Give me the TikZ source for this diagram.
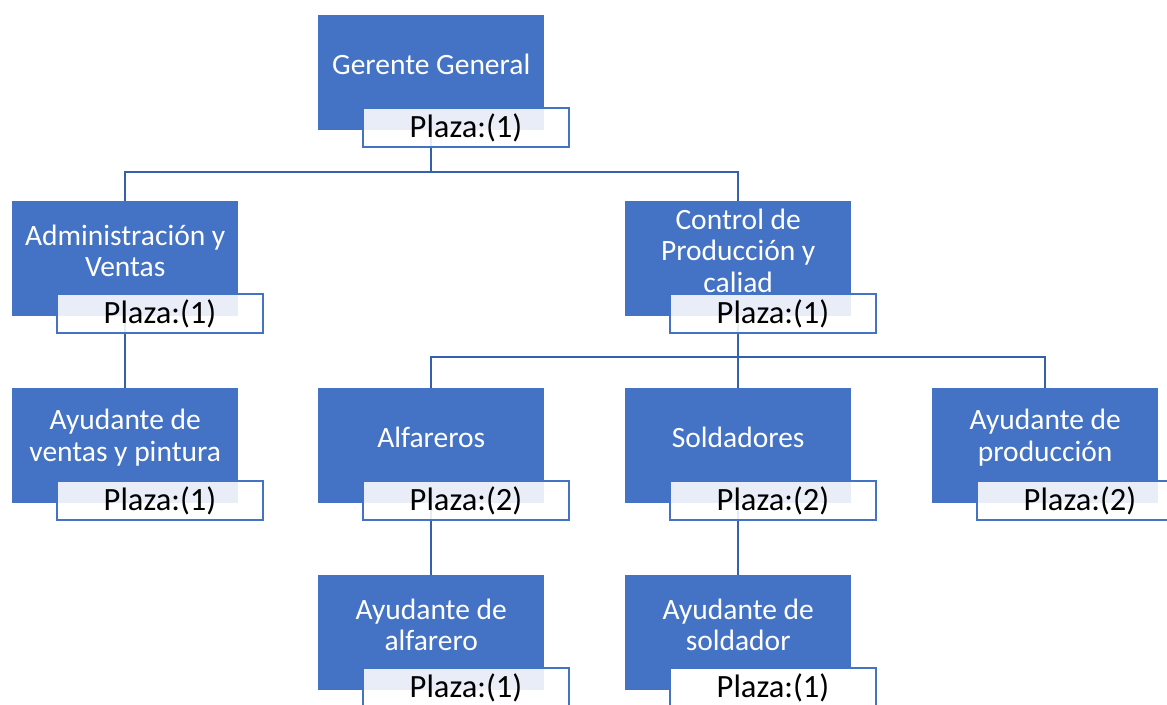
\documentclass[tikz,border=0pt]{standalone}
\usepackage{fontspec}
\setmainfont{Carlito}
\usetikzlibrary{backgrounds,positioning}
\definecolor{unitblue}{HTML}{4472C4}
\definecolor{linkblue}{HTML}{3560AC}
\tikzset{
  unitbox/.style={fill=unitblue, draw=none, minimum width=226pt, minimum height=115pt,
    inner sep=0pt, anchor=north west},
  unittext/.style={text=white, align=center, inner sep=0pt,
    font=\fontsize{29.5}{31.5}\selectfont},
  plazabox/.style={fill=white, fill opacity=0.88, text opacity=1, draw=unitblue,
    line width=2pt, minimum width=206pt, minimum height=39pt, inner sep=0pt,
    anchor=north west, font=\fontsize{32.5}{36}\selectfont},
  link/.style={draw=linkblue, line width=2.2pt}
}
% one unit: blue box, its title and its "Plaza" tag
\newcommand{\orgunit}[5][0.88]{%
  \node[unitbox] (#2) at #3 {};
  \node[unittext] (#2-t) at ([yshift=8pt]#2.center) {#4};
  \node[plazabox, fill opacity=#1] (#2-p) at ([xshift=44pt, yshift=23pt]#2.south west) {Plaza:(#5)};
}
\begin{document}
\begin{tikzpicture}[x=1pt, y=-1pt]
  \useasboundingbox (0,0) rectangle (1167,704);
  \clip (0,0) rectangle (1167,704);

  \orgunit{gg}{(318,15)}{Gerente General}{1}
  \orgunit{adm}{(12,201)}{Administración y\\Ventas}{1}
  \orgunit{ctrl}{(625,201)}{Control de\\Producción y\\caliad}{1}
  \orgunit{ayv}{(12,388)}{Ayudante de\\ventas y pintura}{1}
  \orgunit{alf}{(318,388)}{Alfareros}{2}
  \orgunit{sol}{(625,388)}{Soldadores}{2}
  \orgunit{ayp}{(932,388)}{Ayudante de\\producción}{2}
  \orgunit{aya}{(318,575)}{Ayudante de\\alfarero}{1}
  \orgunit[1]{ays}{(625,575)}{Ayudante de\\soldador}{1}

  \coordinate (bus1) at (0,172);
  \coordinate (bus2) at (0,357);

  \begin{scope}[on background layer]
    \draw[link] (gg.center) -- (gg.center |- bus1) -| (adm.center);
    \draw[link] (gg.center |- bus1) -| (ctrl.center);
    \draw[link] (adm.center) -- (ayv.center);
    \draw[link] (ctrl.center) -- (ctrl.center |- bus2) -| (alf.center);
    \draw[link] (ctrl.center |- bus2) -| (ayp.center);
    \draw[link] (ctrl.center) -- (sol.center);
    \draw[link] (alf.center) -- (aya.center);
    \draw[link] (sol.center) -- (ays.center);
  \end{scope}
\end{tikzpicture}
\end{document}
